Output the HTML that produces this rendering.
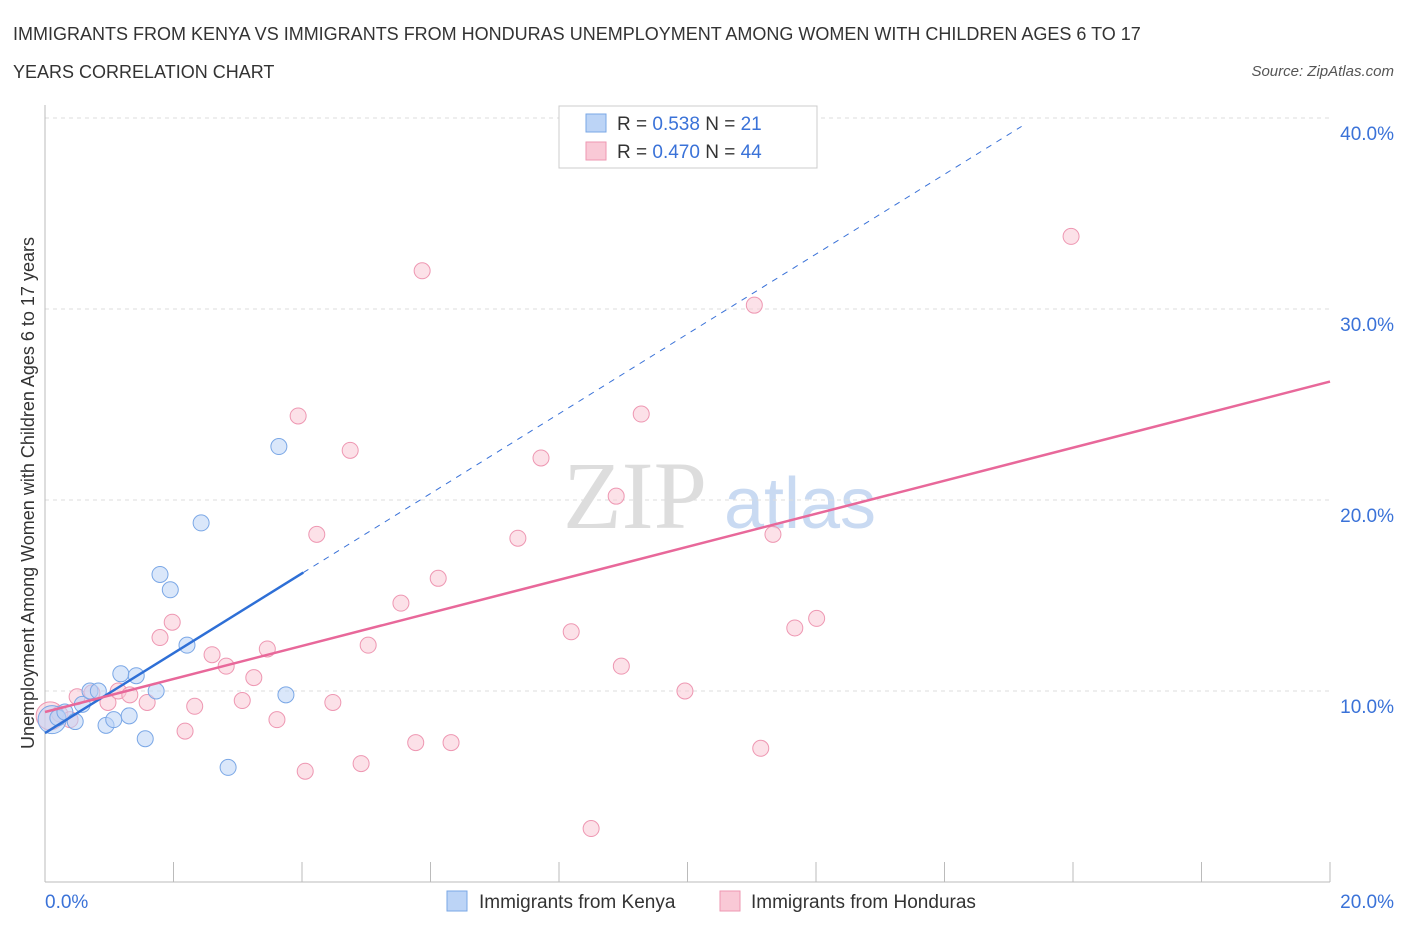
<!DOCTYPE html>
<html><head><meta charset="utf-8"><style>
body{margin:0;background:#fff;font-family:"Liberation Sans",sans-serif;}
svg{display:block}
</style></head><body>
<svg id="chart" width="1406" height="930" xmlns="http://www.w3.org/2000/svg">
<text x="13" y="40" font-size="18" fill="#333">IMMIGRANTS FROM KENYA VS IMMIGRANTS FROM HONDURAS UNEMPLOYMENT AMONG WOMEN WITH CHILDREN AGES 6 TO 17</text>
<text x="13" y="78" font-size="18" fill="#333">YEARS CORRELATION CHART</text>
<text x="1394" y="76" font-size="15" font-style="italic" fill="#555" text-anchor="end">Source: ZipAtlas.com</text>
<text x="635" y="528" font-size="96" font-family="Liberation Serif,serif" fill="#ddd" text-anchor="middle">ZIP</text>
<text x="800" y="528" font-size="72" fill="#c9daf2" text-anchor="middle">atlas</text>
<g id="grid"></g>
<g id="axes"></g>
<g id="marks"></g>
<text transform="translate(34,493) rotate(-90)" font-size="18" fill="#333" text-anchor="middle">Unemployment Among Women with Children Ages 6 to 17 years</text>
<g>
<rect x="559" y="106" width="258" height="62" fill="#fff" stroke="#ccc"/>
<rect x="586" y="114" width="20" height="18" fill="#bcd4f6" stroke="#7aa7e6"/>
<text x="617" y="130" font-size="19" fill="#333">R = <tspan fill="#3a72d8">0.538</tspan>   N = <tspan fill="#3a72d8"> 21</tspan></text>
<rect x="586" y="142" width="20" height="18" fill="#f9c9d6" stroke="#ee97b2"/>
<text x="617" y="158" font-size="19" fill="#333">R = <tspan fill="#3a72d8">0.470</tspan>   N = <tspan fill="#3a72d8">44</tspan></text>
</g>
<g>
<rect x="447" y="891" width="20" height="20" fill="#bcd4f6" stroke="#7aa7e6"/>
<text x="479" y="908" font-size="19" fill="#333">Immigrants from Kenya</text>
<rect x="720" y="891" width="20" height="20" fill="#f9c9d6" stroke="#ee97b2"/>
<text x="751" y="908" font-size="19" fill="#333">Immigrants from Honduras</text>
</g>
</svg>
<script>
const yTicks=[10,20,30,40];
const yTickLabels=["10.0%","20.0%","30.0%","40.0%"];
const xTickLabels=["0.0%","20.0%"];
const kenyaX=[0.11,0.2,0.31,0.47,0.58,0.7,0.83,0.95,1.07,1.18,1.31,1.42,1.56,1.73,1.79,1.95,2.21,2.43,2.85,3.64,3.75];
const kenyaY=[8.5,8.6,8.9,8.4,9.3,10.0,10.0,8.2,8.5,10.9,8.7,10.8,7.5,10.0,16.1,15.3,12.4,18.8,6.0,22.8,9.8];
const hondX=[0.08,0.23,0.39,0.5,0.73,0.98,1.14,1.32,1.59,1.79,1.98,2.18,2.33,2.6,2.82,3.07,3.25,3.46,3.61,3.94,4.05,4.23,4.48,4.75,4.92,5.03,5.54,5.77,5.87,6.12,6.32,7.36,7.72,8.19,8.5,8.89,8.97,9.28,9.96,11.04,11.14,11.33,11.67,12.01,15.97];
const hondY=[8.7,8.8,8.5,9.7,9.9,9.4,10.0,9.8,9.4,12.8,13.6,7.9,9.2,11.9,11.3,9.5,10.7,12.2,8.5,24.4,5.8,18.2,9.4,22.6,6.2,12.4,14.6,7.3,32.0,15.9,7.3,18.0,22.2,13.1,2.8,20.2,11.3,24.5,10.0,30.2,7.0,18.2,13.3,13.8,33.8];
const kenyaFit=[7.8,16.2];const kenyaFitX=[0,4.02];const kenyaExtX=15.2;
const hondFit=[8.9,26.2];
const xs=v=>45+v/20*1285, ys=v=>882-v/10*191;
const NS="http://www.w3.org/2000/svg";
function mk(p,t,a){const e=document.createElementNS(NS,t);for(const k in a)e.setAttribute(k,a[k]);document.getElementById(p).appendChild(e);return e;}
yTicks.forEach((t,i)=>{
 const l=mk('grid','line',{x1:45,x2:1330,y1:ys(t),y2:ys(t),stroke:'#ddd','stroke-dasharray':'4,4'});
 
 
 const tx=mk('grid','text',{x:1394,y:ys(t)+22,'font-size':19,fill:'#3a72d8','text-anchor':'end'});
 tx.textContent=yTickLabels[i];
 
 
});
const ax=mk('axes','line',{x1:45,x2:45,y1:105,y2:882,stroke:'#bbb'});

const bx=mk('axes','line',{x1:45,x2:1330,y1:882,y2:882,stroke:'#bbb'});

for(let i=0;i<=10;i++){const t=mk('axes','line',{x1:xs(i*2),x2:xs(i*2),y1:862,y2:882,stroke:'#bbb'});
}
[[0,45,'start'],[20,1394,'end']].forEach((d,i)=>{const t=mk('axes','text',{x:d[1],y:908,'font-size':19,fill:'#3a72d8','text-anchor':d[2]});t.textContent=xTickLabels[i];
});
function dot(x,y,c,s,r){const e=mk('marks','circle',{cx:xs(x),cy:ys(y),r:r,fill:c,'fill-opacity':0.55,stroke:s});return e;}
hondX.forEach((x,i)=>{const e=dot(x,hondY[i],'#f9c9d6','#ee97b2',i==0?14:8);
});
kenyaX.forEach((x,i)=>{const e=dot(x,kenyaY[i],'#bcd4f6','#7aa7e6',i==0?14:8);
});
const slope=(kenyaFit[1]-kenyaFit[0])/kenyaFitX[1];
const d=mk('marks','line',{x1:xs(kenyaFitX[1]),y1:ys(kenyaFit[1]),x2:xs(kenyaExtX),y2:ys(kenyaFit[0]+slope*kenyaExtX),stroke:'#3a72d8','stroke-dasharray':'6,6','stroke-width':1});

const k=mk('marks','line',{x1:xs(0),y1:ys(kenyaFit[0]),x2:xs(kenyaFitX[1]),y2:ys(kenyaFit[1]),stroke:'#2e6fd6','stroke-width':2.5});

const h=mk('marks','line',{x1:xs(0),y1:ys(hondFit[0]),x2:xs(20),y2:ys(hondFit[1]),stroke:'#e8689a','stroke-width':2.5});

</script>
</body></html>
